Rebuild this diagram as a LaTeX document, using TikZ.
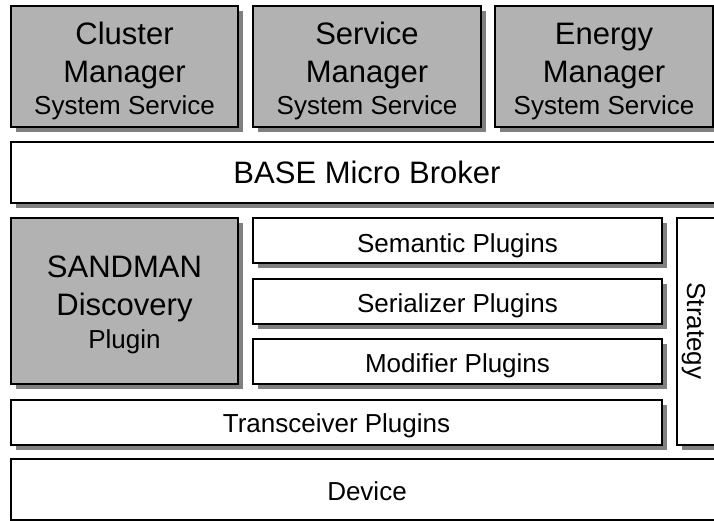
\documentclass[tikz,border=0pt]{standalone}
\usepackage{fontspec}
\setmainfont{Liberation Sans}
\usetikzlibrary{shadows}
\definecolor{boxgray}{gray}{0.70}
\definecolor{shadegray}{gray}{0.50}
\tikzset{
  layer/.style={draw=black, line width=1.6pt, fill=white, anchor=north west,
    inner sep=0pt, outer sep=0pt,
    drop shadow={shadow xshift=5pt, shadow yshift=-5pt, fill=shadegray, opacity=1}},
  greylayer/.style={layer, fill=boxgray},
  bigtext/.style={anchor=base, inner sep=0pt, font=\fontsize{31}{36}\selectfont},
  smalltext/.style={anchor=base, inner sep=0pt, font=\fontsize{26}{30}\selectfont},
}
\begin{document}
\begin{tikzpicture}[x=1pt,y=-1pt]
\useasboundingbox (0,0) rectangle (714,521);
\clip (0,0) rectangle (714,521);

% system services
\node[greylayer, minimum width=227pt, minimum height=121pt] (cluster) at (11,6) {};
\node[greylayer, minimum width=228pt, minimum height=121pt] (service) at (253,6) {};
\node[greylayer, minimum width=218pt, minimum height=121pt] (energy) at (495,6) {};

\node[bigtext] (clusterA) at (124.5,45) {Cluster};
\node[bigtext] (clusterB) at (124.5,83) {Manager};
\node[smalltext] (clusterC) at (124.5,115) {System Service};
\node[bigtext] (serviceA) at (367,45) {Service};
\node[bigtext] (serviceB) at (367,83) {Manager};
\node[smalltext] (serviceC) at (367,115) {System Service};
\node[bigtext] (energyA) at (604,45) {Energy};
\node[bigtext] (energyB) at (604,83) {Manager};
\node[smalltext] (energyC) at (604,115) {System Service};

% broker
\node[layer, minimum width=712pt, minimum height=61pt] (broker) at (11,142) {};
\node[bigtext] (brokerT) at (367,184) {BASE Micro Broker};

% discovery plugin
\node[greylayer, minimum width=227pt, minimum height=166pt] (sandman) at (11,218) {};
\node[bigtext] (sandA) at (124.5,277) {SANDMAN};
\node[bigtext] (sandB) at (124.5,315) {Discovery};
\node[smalltext] (sandC) at (124.5,348) {Plugin};

% plugin stack
\node[layer, minimum width=409pt, minimum height=45pt] (semantic) at (253,218) {};
\node[layer, minimum width=409pt, minimum height=45pt] (serializer) at (253,279) {};
\node[layer, minimum width=409pt, minimum height=45pt] (modifier) at (253,339) {};
\node[layer, minimum width=651pt, minimum height=45pt] (transceiver) at (11,400) {};
\node[smalltext] at ([yshift=-12pt]semantic.center) {Semantic Plugins};
\node[smalltext] at ([yshift=-11pt]serializer.center) {Serializer Plugins};
\node[smalltext] at ([yshift=-11pt]modifier.center) {Modifier Plugins};
\node[smalltext] at ([yshift=-10pt]transceiver.center) {Transceiver Plugins};

% strategy column
\node[layer, minimum width=50pt, minimum height=227pt] (strategy) at (677,218) {};
\node[smalltext, rotate=-90] (strategyT) at (687,331) {Strategy};

% device
\node[layer, minimum width=712pt, minimum height=61pt] (device) at (11,459) {};
\node[smalltext] at ([yshift=-11pt]device.center) {Device};
\end{tikzpicture}
\end{document}
